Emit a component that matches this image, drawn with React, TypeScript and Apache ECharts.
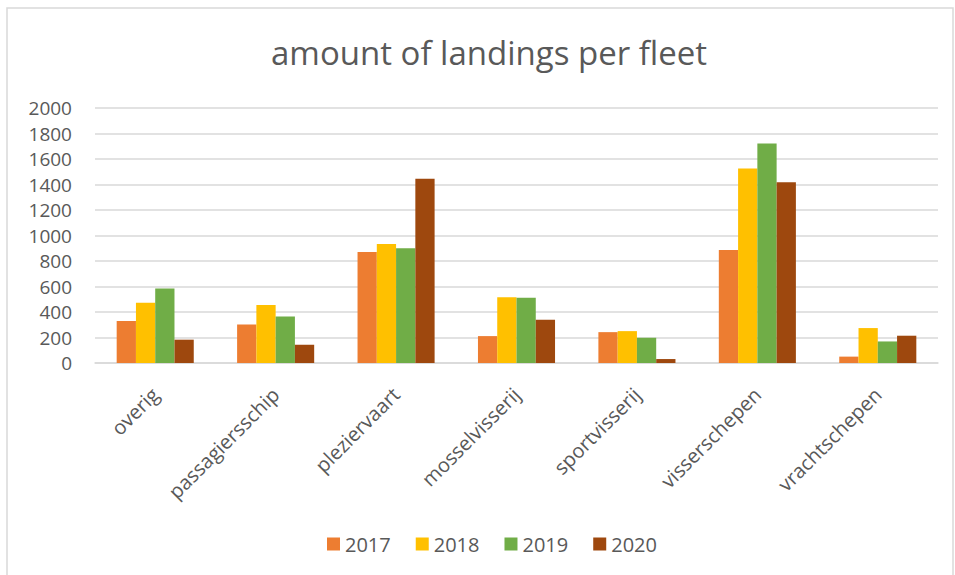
import React, { useEffect, useRef } from "react";
import * as echarts from "echarts";

const categories = [
  "overig",
  "passagiersschip",
  "pleziervaart",
  "mosselvisserij",
  "sportvisserij",
  "visserschepen",
  "vrachtschepen",
];
const years = ["2017", "2018", "2019", "2020"];
const values2017 = [329, 302, 871, 211, 242, 887, 50];
const values2018 = [472, 454, 933, 516, 250, 1525, 274];
const values2019 = [584, 365, 900, 511, 198, 1721, 169];
const values2020 = [183, 143, 1445, 339, 31, 1418, 214];
const colors = ["#ED7D31", "#FFC000", "#70AD47", "#9E480E"];
const title = "amount of landings per fleet";

export default function App() {
  const ref = useRef<HTMLDivElement>(null);
  useEffect(() => {
    if (!ref.current) return;
    const chart = echarts.init(ref.current, null, { renderer: "svg" });
    const font = "'Open Sans', 'Noto Sans', sans-serif";
    const seriesData = [values2017, values2018, values2019, values2020];
    chart.setOption({
      animation: false,
      backgroundColor: "#ffffff",
      textStyle: { fontFamily: font, color: "#595959" },
      title: {
        text: title,
        left: 266,
        top: 31,
        textStyle: {
          fontFamily: font,
          fontSize: 33,
          fontWeight: "normal",
          color: "#595959",
        },
      },
      graphic: [
        {
          type: "rect",
          shape: { x: 7, y: 8, width: 946, height: 575 },
          style: { fill: "none", stroke: "#D9D9D9", lineWidth: 1.5 },
          silent: true,
        },
      ],
      legend: {
        data: years,
        bottom: 16,
        left: 322,
        itemWidth: 13,
        itemHeight: 13,
        itemGap: 25,
        icon: "rect",
        textStyle: { fontFamily: font, fontSize: 20, color: "#595959" },
      },
      grid: { left: 95, right: 17, top: 108, bottom: 212, containLabel: false },
      xAxis: {
        type: "category",
        data: categories,
        axisLine: { lineStyle: { color: "#D9D9D9", width: 1.5 } },
        axisTick: { show: false },
        axisLabel: {
          rotate: 45,
          margin: 28,
          fontSize: 20,
          fontFamily: font,
          color: "#595959",
          interval: 0,
        },
      },
      yAxis: {
        type: "value",
        min: 0,
        max: 2000,
        interval: 200,
        axisLine: { show: false },
        axisTick: { show: false },
        splitLine: { lineStyle: { color: "#D9D9D9", width: 1.5 } },
        axisLabel: {
          fontSize: 19,
          fontFamily: font,
          color: "#595959",
          margin: 23,
          formatter: (v: number) => String(v),
        },
      },
      series: years.map((y, i) => ({
        name: y,
        type: "bar",
        data: seriesData[i],
        itemStyle: { color: colors[i] },
        barGap: "0%",
        barCategoryGap: "36%",
      })),
    });
    return () => chart.dispose();
  }, []);
  return (
    <div
      ref={ref}
      style={{ position: "fixed", left: 0, top: 0, width: 955, height: 575 }}
    />
  );
}
